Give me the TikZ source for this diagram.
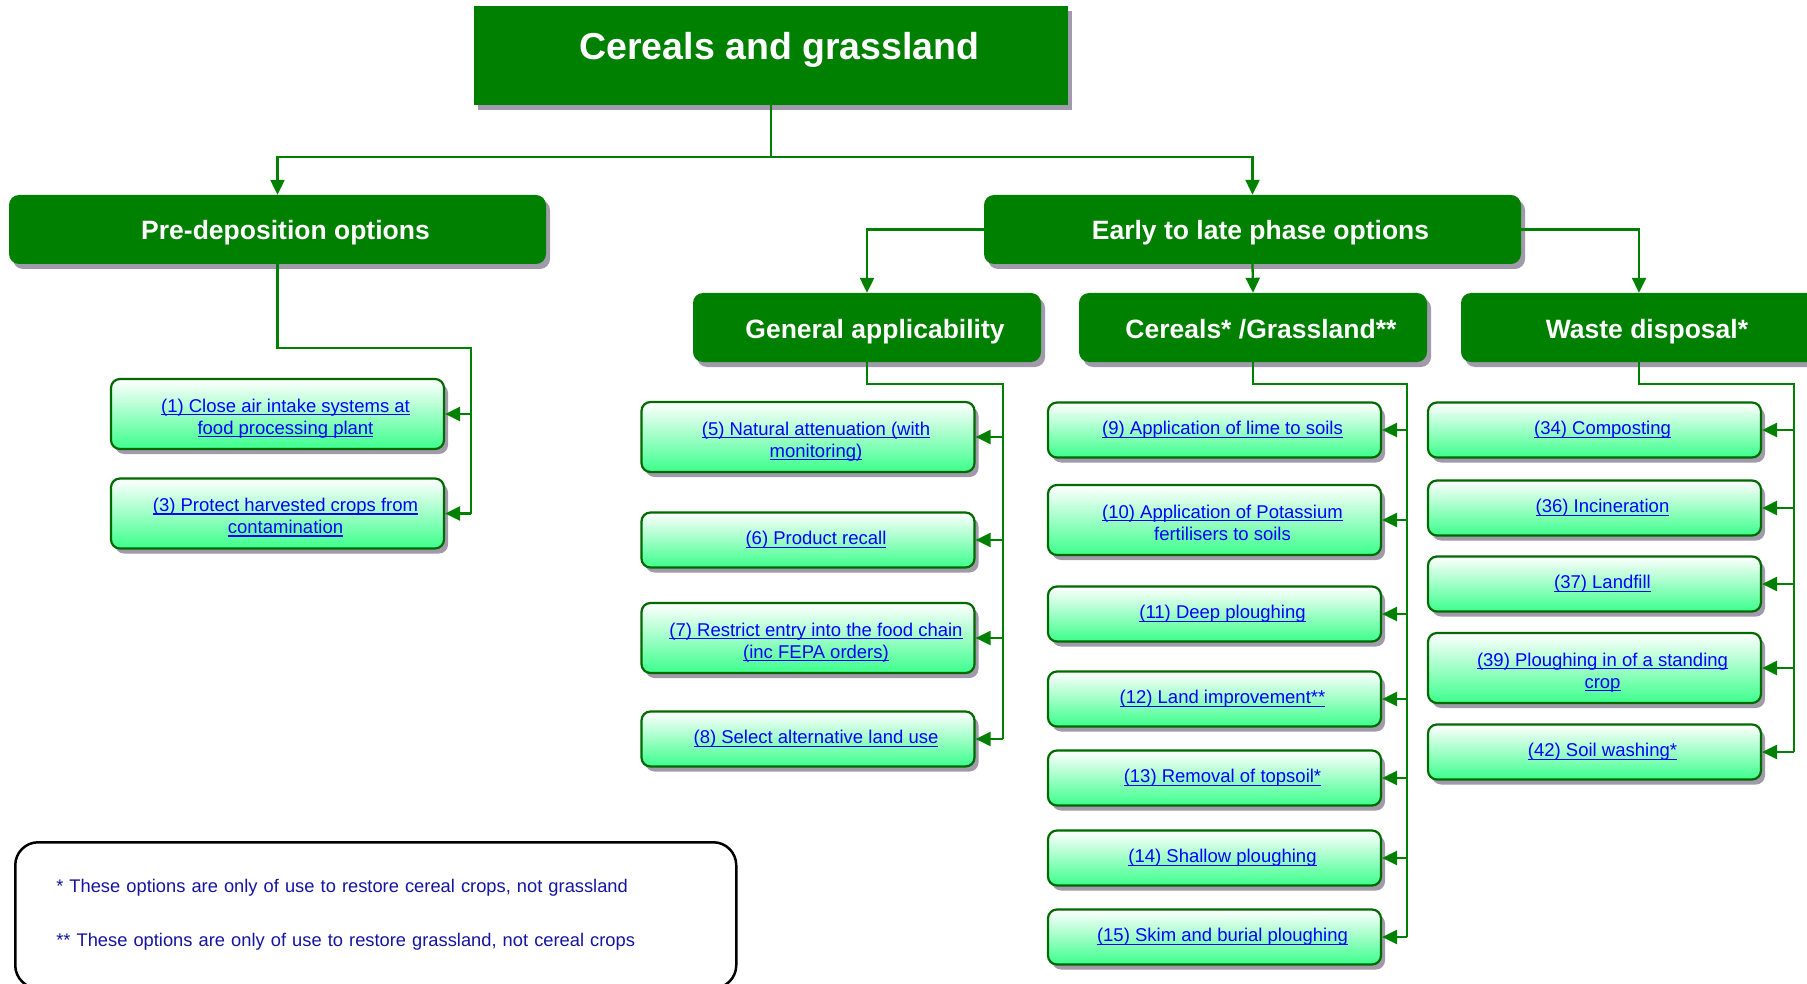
\documentclass[tikz,border=0pt]{standalone}
\usepackage{fontspec}
\setmainfont{Liberation Sans}
\usepackage{tikz}
\usetikzlibrary{arrows.meta,shadows}
\definecolor{hdrgreen}{RGB}{0,128,0}
\definecolor{rimgreen}{RGB}{0,105,0}
\definecolor{optgreen}{RGB}{60,255,140}
\definecolor{shadecol}{RGB}{160,154,170}
\definecolor{notecol}{RGB}{20,20,160}
\newsavebox{\lkbox}
% underlined link line, nudged right like the original
\newcommand{\lk}[1]{\hspace*{16pt}\sbox{\lkbox}{#1}\usebox{\lkbox}\llap{\rule[-3pt]{\wd\lkbox}{1.2pt}}}
\newcommand{\pl}[1]{\hspace*{16pt}#1}
\tikzset{
    sdw/.style={drop shadow={shadow xshift=4pt,shadow yshift=-5pt,fill=shadecol,opacity=1}},
    rootbox/.style={sdw, fill=hdrgreen, text=white,
        font=\fontsize{37.5}{40}\selectfont\bfseries,
        minimum width=594pt, minimum height=99pt, text height=27pt, text depth=19pt,
        execute at begin node={\hspace*{17pt}}},
    hdr/.style={sdw, rounded corners=10pt, fill=hdrgreen, text=white,
        font=\fontsize{26.5}{30}\selectfont\bfseries, minimum height=69pt,
        text height=25pt, text depth=4pt, execute at begin node={\hspace*{16pt}}},
    opt/.style={sdw, rounded corners=9pt, draw=rimgreen, line width=2.2pt,
        top color=white, bottom color=optgreen, text=blue, align=center,
        font=\fontsize{18.5}{22}\selectfont, minimum width=333pt, minimum height=55pt},
    tall/.style={minimum height=70pt, text height=40pt, text depth=0pt},
    notebox/.style={draw=black, line width=2.5pt, rounded corners=23pt, text=notecol,
        font=\fontsize{18.3}{54}\selectfont, align=left, text width=639pt,
        inner xsep=41pt, minimum height=146pt},
    wire/.style={hdrgreen, line width=2.3pt},
    conn/.style={wire, -{Triangle[length=15pt,width=14pt]}},
}

\begin{document}
\begin{tikzpicture}[x=1pt,y=-1pt]
    \clip (0,0) rectangle (1807,984);

    % headings
    \node[rootbox] (root) at (771,55.5) {Cereals and grassland};
    \node[hdr, minimum width=537pt] (pre) at (277.5,229.5) {Pre-deposition options};
    \node[hdr, minimum width=537pt] (early) at (1252.5,229.5) {Early to late phase options};
    \node[hdr, minimum width=348pt] (gen) at (867,327.5) {General applicability};
    \node[hdr, minimum width=348pt] (cer) at (1253,327.5) {Cereals* /Grassland**};
    \node[hdr, minimum width=356pt] (waste) at (1639,327.5) {Waste disposal*};

    % pre-deposition
    \node[opt, tall] (o1) at (277.5,414) {\lk{(1) Close air intake systems at}\\\lk{food processing plant}};
    \node[opt, tall] (o3) at (277.5,513.5) {\lk{(3) Protect harvested crops from}\\\lk{contamination}};

    % general applicability
    \node[opt, tall] (o5) at (808,437) {\lk{(5) Natural attenuation (with}\\\lk{monitoring)}};
    \node[opt] (o6) at (808,540) {\lk{(6) Product recall}};
    \node[opt, tall] (o7) at (808,638) {\lk{(7) Restrict entry into the food chain}\\\lk{(inc FEPA orders)}};
    \node[opt] (o8) at (808,739) {\lk{(8) Select alternative land use}};

    % cereals / grassland
    \node[opt] (o9) at (1214.5,430) {\lk{(9) Application of lime to soils}};
    \node[opt, tall] (o10) at (1214.5,520) {\lk{(10) Application of Potassium}\\\pl{fertilisers to soils}};
    \node[opt] (o11) at (1214.5,614) {\lk{(11) Deep ploughing}};
    \node[opt] (o12) at (1214.5,699) {\lk{(12) Land improvement**}};
    \node[opt] (o13) at (1214.5,778) {\lk{(13) Removal of topsoil*}};
    \node[opt] (o14) at (1214.5,858) {\lk{(14) Shallow ploughing}};
    \node[opt] (o15) at (1214.5,937) {\lk{(15) Skim and burial ploughing}};

    % waste disposal
    \node[opt] (o34) at (1594.5,430) {\lk{(34) Composting}};
    \node[opt] (o36) at (1594.5,508) {\lk{(36) Incineration}};
    \node[opt] (o37) at (1594.5,584) {\lk{(37) Landfill}};
    \node[opt, tall] (o39) at (1594.5,668) {\lk{(39) Ploughing in of a standing}\\\lk{crop}};
    \node[opt] (o42) at (1594.5,752) {\lk{(42) Soil washing*}};

    \node[notebox, anchor=north west] (legend) at (14,841)
        {* These options are only of use to restore cereal crops, not grassland\\\relax
         ** These options are only of use to restore grassland, not cereal crops};

    % connectors
    \draw[conn] (root.south) -- ++(0,52) -| (pre.north);
    \draw[conn] (root.south) -- ++(0,52) -| (early.north);
    \draw[conn] (early.west) -| (gen.north);
    \draw[conn] (early.south) -- (cer.north);
    \draw[conn] (early.east) -| (waste.north);

    \coordinate (prebus) at (471,348);
    \coordinate (genbus) at (1003,384);
    \coordinate (cerbus) at (1407,384);
    \coordinate (wastebus) at (1794,384);

    \draw[wire] (pre.south) |- (prebus) -- (prebus |- o3.east);
    \draw[wire] (gen.south) |- (genbus) -- (genbus |- o8.east);
    \draw[wire] (cer.south) |- (cerbus) -- (cerbus |- o15.east);
    \draw[wire] (waste.south) |- (wastebus) -- (wastebus |- o42.east);

    \foreach \o in {o1,o3}
        \draw[conn] (prebus |- \o.east) -- (\o.east);
    \foreach \o in {o5,o6,o7,o8}
        \draw[conn] (genbus |- \o.east) -- (\o.east);
    \foreach \o in {o9,o10,o11,o12,o13,o14,o15}
        \draw[conn] (cerbus |- \o.east) -- (\o.east);
    \foreach \o in {o34,o36,o37,o39,o42}
        \draw[conn] (wastebus |- \o.east) -- (\o.east);
\end{tikzpicture}
\end{document}
